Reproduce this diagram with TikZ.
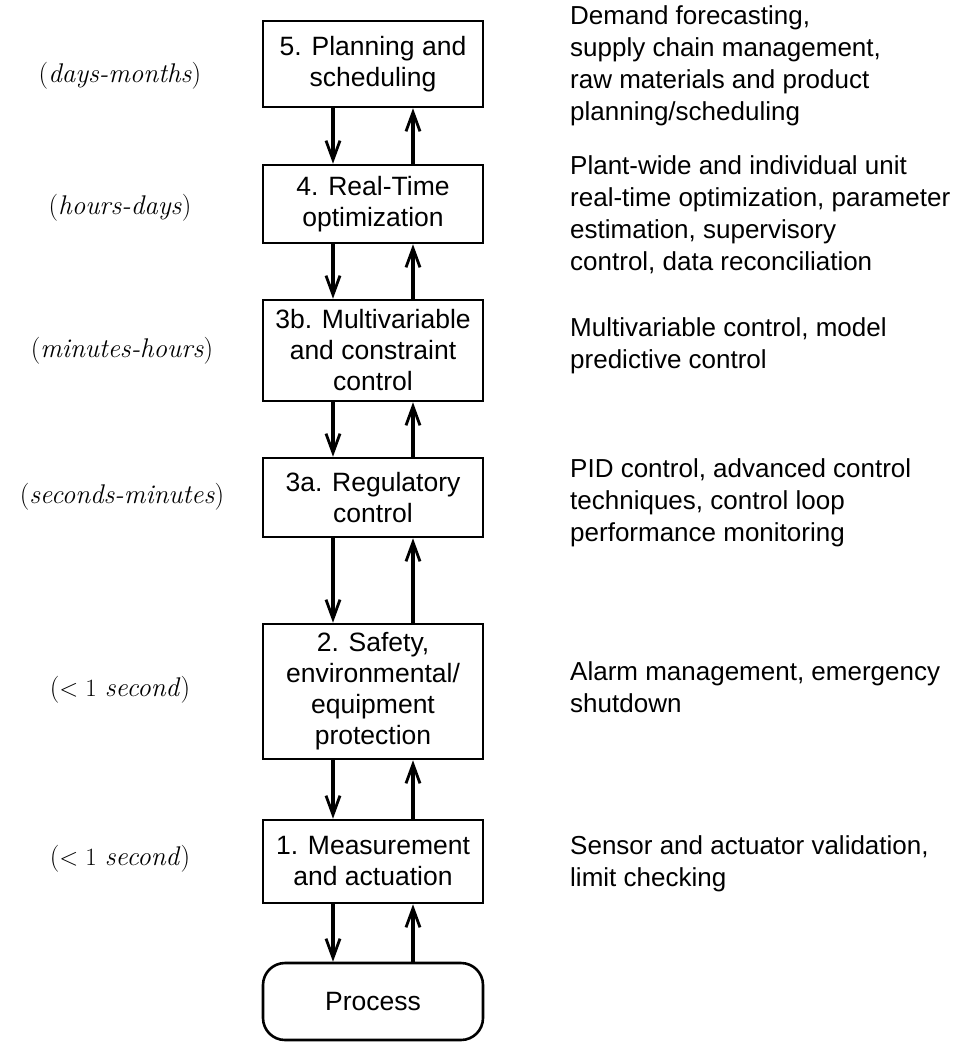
\documentclass[tikz,border=0pt]{standalone}
\usepackage{fontspec}
\setsansfont{Liberation Sans}
\usetikzlibrary{arrows.meta}
\begin{document}
\begin{tikzpicture}[x=1pt,y=-1pt,
  lvl/.style={draw,line width=2.6pt,minimum width=220pt,inner sep=0pt,align=center,
    font=\sffamily\fontsize{26.5}{31}\selectfont},
  arr/.style={line width=3.2pt,-{Straight Barb[length=19pt,width=14pt,line width=2.8pt]}},
  lab/.style={font=\fontsize{27}{31}\selectfont,inner sep=0pt},
  desc/.style={font=\sffamily\fontsize{26}{32}\selectfont,align=left,anchor=north west,inner sep=0pt}]
\useasboundingbox (0,0) rectangle (956,1046);
\node[lvl,minimum height=86pt] (b5) at (373,64) {5. Planning and\\scheduling};
\node[lvl,minimum height=78pt] (b4) at (373,204) {4. Real-Time\\optimization};
\node[lvl,minimum height=101pt] (b3b) at (373,350.5) {3b. Multivariable\\and constraint\\control};
\node[lvl,minimum height=79pt] (b3a) at (373,497.5) {3a. Regulatory\\control};
\node[lvl,minimum height=135pt] (b2) at (373,691.5) {2. Safety,\\environmental/\\equipment\\protection};
\node[lvl,minimum height=83pt] (b1) at (373,861.5) {1. Measurement\\and actuation};
\node[lvl,minimum height=77pt,rounded corners=22pt] (pr) at (373,1001.5) {Process};
\foreach \a/\b in {b5/b4,b4/b3b,b3b/b3a,b3a/b2,b2/b1,b1/pr}{
  \draw[arr] ([xshift=-40pt]\a.south) -- ([xshift=-40pt]\b.north);
  \draw[arr] ([xshift=40pt]\b.north) -- ([xshift=40pt]\a.south);
}
\node[lab] (t5) at (120,76) {(\textit{days-months})};
\node[lab] (t4) at (120,208) {(\textit{hours-days})};
\node[lab] (t3b) at (122,351) {(\textit{minutes-hours})};
\node[lab] (t3a) at (122,497) {(\textit{seconds-minutes})};
\node[lab] (t2) at (120,690) {($<1$ \textit{second})};
\node[lab] (t1) at (120,859) {($<1$ \textit{second})};
\node[desc] (d5) at (570,5) {Demand forecasting,\\supply chain management,\\raw materials and product\\planning/scheduling};
\node[desc] (d4) at (570,155) {Plant-wide and individual unit\\real-time optimization, parameter\\estimation, supervisory\\control, data reconciliation};
\node[desc] (d3b) at (570,317) {Multivariable control, model\\predictive control};
\node[desc] (d3a) at (570,458) {PID control, advanced control\\techniques, control loop\\performance monitoring};
\node[desc] (d2) at (570,661) {Alarm management, emergency\\shutdown};
\node[desc] (d1) at (570,835) {Sensor and actuator validation,\\limit checking};
\end{tikzpicture}
\end{document}
